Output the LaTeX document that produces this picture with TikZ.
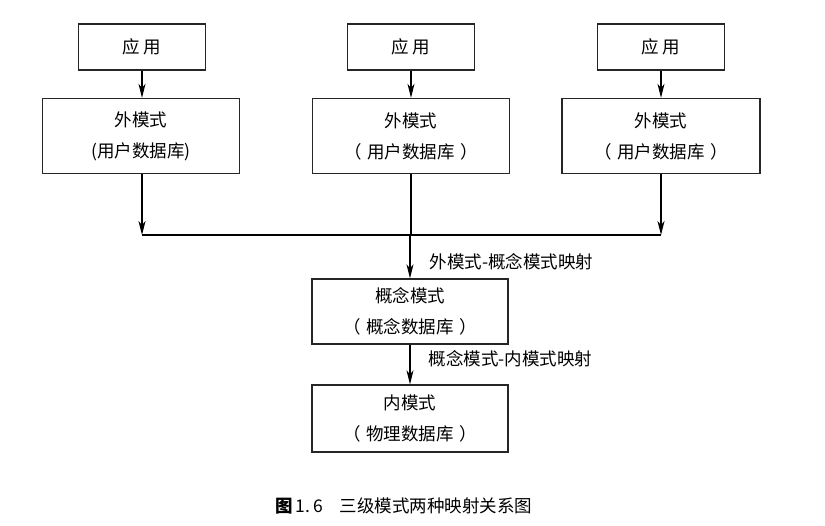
\documentclass[tikz,border=0pt]{standalone}
\usepackage{fontspec}
\setmainfont{Noto Sans CJK SC}
\usetikzlibrary{arrows.meta}

\newcommand{\pg}{（\hspace{0.3em}}
\newcommand{\pd}{\hspace{0.3em}）}

\begin{document}
\begin{tikzpicture}[x=1pt, y=-1pt]
			\tikzset{boite/.style={rectangle, draw=black!85, line width=1.3pt, align=center, inner sep=0pt,
				font=\fontsize{17.5}{31}\selectfont},
			fleche/.style={line width=1.3pt, -{Stealth[length=14pt, width=7pt, inset=4pt]}},
			trait/.style={line width=1.3pt},
			legende/.style={font=\fontsize{17.5}{20}\selectfont, inner sep=0pt}};

			\useasboundingbox (0, 0) rectangle (825, 526);

			\foreach \x/\c in {1/142, 2/411, 3/661}{
				\node[boite, minimum width=127pt, minimum height=46pt] (app\x) at (\c, 47) {应\ 用};
				\coordinate (j\x) at (\c, 235);
			}

			\node[boite, minimum width=197pt, minimum height=75pt] (ext1) at (141, 136) {外模式\\(用户数据库)};
			\node[boite, minimum width=197pt, minimum height=75pt] (ext2) at (411, 136) {外模式\\\pg 用户数据库\pd};
			\node[boite, minimum width=198pt, minimum height=75pt] (ext3) at (661, 136) {外模式\\\pg 用户数据库\pd};

			\node[boite, minimum width=196pt, minimum height=65pt] (concept) at (410, 311.5) {概念模式\\\pg 概念数据库\pd};
			\node[boite, minimum width=196pt, minimum height=67pt] (interne) at (410, 418.5) {内模式\\\pg 物理数据库\pd};

			\foreach \x in {1, 2, 3}{
				\draw[fleche] (app\x) -- (app\x |- ext\x.north);
			}

			\draw[fleche] (ext1.south -| j1) -- (j1);
			\draw[fleche] (ext3.south -| j3) -- (j3);
			\draw[trait] (ext2.south -| j2) -- (j2);
			\draw[line width=2pt] (j1) -- (j3);

			\draw[fleche] (j2 -| concept) -- node[legende, right=19pt, yshift=-5pt] {外模式-概念模式映射} (concept);
			\draw[fleche] (concept) -- node[legende, right=18pt, yshift=6pt] {概念模式-内模式映射} (interne);

			\node[anchor=west, inner sep=0pt, font=\fontsize{17.5}{20}\selectfont] (titre) at (275, 506)
				{\textbf{图}\,1.\,6\hspace{17pt}三级模式两种映射关系图};
		\end{tikzpicture}
\end{document}
